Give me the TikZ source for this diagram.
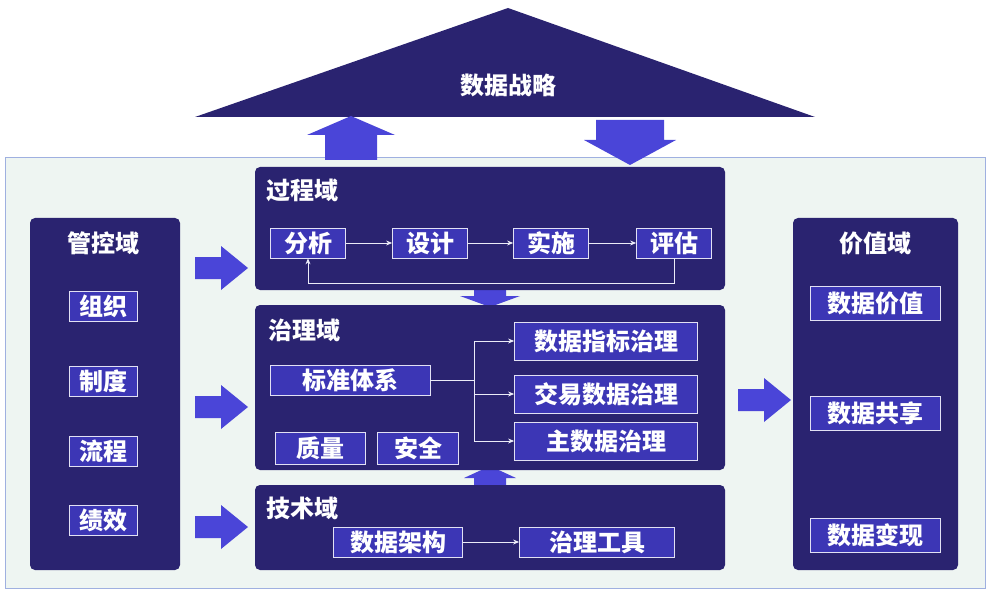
\documentclass[tikz,border=0pt]{standalone}
\usepackage{fontspec}
\setmainfont{Noto Sans CJK SC}[BoldFont={Noto Sans CJK SC Black}]
\usetikzlibrary{arrows.meta}
\definecolor{navy}{HTML}{2A2370}
\definecolor{inner}{HTML}{3C36B5}
\definecolor{arr}{HTML}{4A45D8}
\definecolor{panel}{HTML}{EEF5F2}
\definecolor{pborder}{HTML}{9FB0E0}
\begin{document}
\begin{tikzpicture}[x=1pt,y=-1pt,
  item/.style={draw=white!85!inner,line width=0.8pt,fill=inner,text=white,font=\bfseries\fontsize{24}{25}\selectfont,inner sep=0pt,minimum height=30pt},
  ttl/.style={text=white,font=\bfseries\fontsize{24}{25}\selectfont,inner sep=0pt},
  ln/.style={draw=white!90!inner,line width=0.8pt,-{Stealth[length=6pt,width=5pt]}},
  bigarrow/.pic={\fill[arr] (-26,-11) -- (0,-11) -- (0,-22) -- (27,0) -- (0,22) -- (0,11) -- (-26,11) -- cycle;}]
\useasboundingbox (0,0) rectangle (993,596);
% triangle
\fill[navy] (508,8) -- (815,117) -- (195,117) -- cycle;
\node[ttl] (strat) at (508,85) {数据战略};
% panel
\draw[fill=panel,draw=pborder,line width=1pt] (5,158) rectangle (985,588);
% up / down arrows
\fill[arr] (325,160) -- (325,135) -- (307,135) -- (351,116) -- (395,135) -- (377,135) -- (377,160) -- cycle;
\fill[arr] (596,120) -- (664,120) -- (664,140) -- (676,140) -- (630,165) -- (584,140) -- (596,140) -- cycle;
% left
\fill[navy,rounded corners=5pt] (30,218) rectangle (180,570);
\node[ttl] (gk) at (103,243) {管控域};
\node[item,minimum width=68pt] (zz) at (103,306) {组织};
\node[item,minimum width=68pt] (zd) at (103,381) {制度};
\node[item,minimum width=68pt] (lc) at (103,451) {流程};
\node[item,minimum width=68pt] (jx) at (103,520) {绩效};
% right
\fill[navy,rounded corners=5pt] (793,218) rectangle (958,570);
\node[ttl] (jz) at (875,243) {价值域};
\node[item,minimum width=130pt,minimum height=34pt] (v1) at (875,303) {数据价值};
\node[item,minimum width=130pt,minimum height=34pt] (v2) at (875,413) {数据共享};
\node[item,minimum width=130pt,minimum height=34pt] (v3) at (875,535) {数据变现};
% small connecting arrows
\fill[arr] (474,290) -- (506,290) -- (506,296) -- (520,296) -- (490,307) -- (460,296) -- (474,296) -- cycle;
\fill[arr] (474,486) -- (506,486) -- (506,478) -- (516,478) -- (490,466) -- (464,478) -- (474,478) -- cycle;
% process
\fill[navy,rounded corners=5pt] (255,167) rectangle (725,290);
\node[ttl,anchor=west] (gc) at (266,190) {过程域};
\node[item,minimum width=75pt] (fx) at (308,243) {分析};
\node[item,minimum width=75pt] (sj) at (430,243) {设计};
\node[item,minimum width=75pt] (ss) at (551,243) {实施};
\node[item,minimum width=75pt] (pg) at (674,243) {评估};
\draw[ln] (fx) -- (sj);
\draw[ln] (sj) -- (ss);
\draw[ln] (ss) -- (pg);
\draw[ln] (pg.south) -- ++(0,25) -| (fx.south);
% governance
\fill[navy,rounded corners=5pt] (255,305) rectangle (725,470);
\node[ttl,anchor=west] (zl) at (268,330) {治理域};
\node[item,minimum width=160pt] (bz) at (350,380) {标准体系};
\node[item,minimum width=183pt,minimum height=38pt] (g1) at (606,341) {数据指标治理};
\node[item,minimum width=183pt,minimum height=38pt] (g2) at (606,394) {交易数据治理};
\node[item,minimum width=183pt,minimum height=38pt] (g3) at (606,441) {主数据治理};
\node[item,minimum width=90pt,minimum height=32pt] (zlq) at (320,448) {质量};
\node[item,minimum width=81pt,minimum height=32pt] (aq) at (418,448) {安全};
\coordinate (br) at (474,380);
\draw[draw=white!90!inner,line width=0.8pt] (bz.east) -- (br);
\draw[ln] (br) |- (g1.west);
\draw[ln] (br) |- (g2.west);
\draw[ln] (br) |- (g3.west);
% tech
\fill[navy,rounded corners=5pt] (255,485) rectangle (725,570);
\node[ttl,anchor=west] (js) at (266,508) {技术域};
\node[item,minimum width=129pt] (jg) at (398,542) {数据架构};
\node[item,minimum width=155pt] (gj) at (597,542) {治理工具};
\draw[ln] (jg) -- (gj);
% big arrows
\pic at (221,268) {bigarrow};
\pic at (221,407) {bigarrow};
\pic at (221,527) {bigarrow};
\pic at (764,400) {bigarrow};
\end{tikzpicture}
\end{document}
